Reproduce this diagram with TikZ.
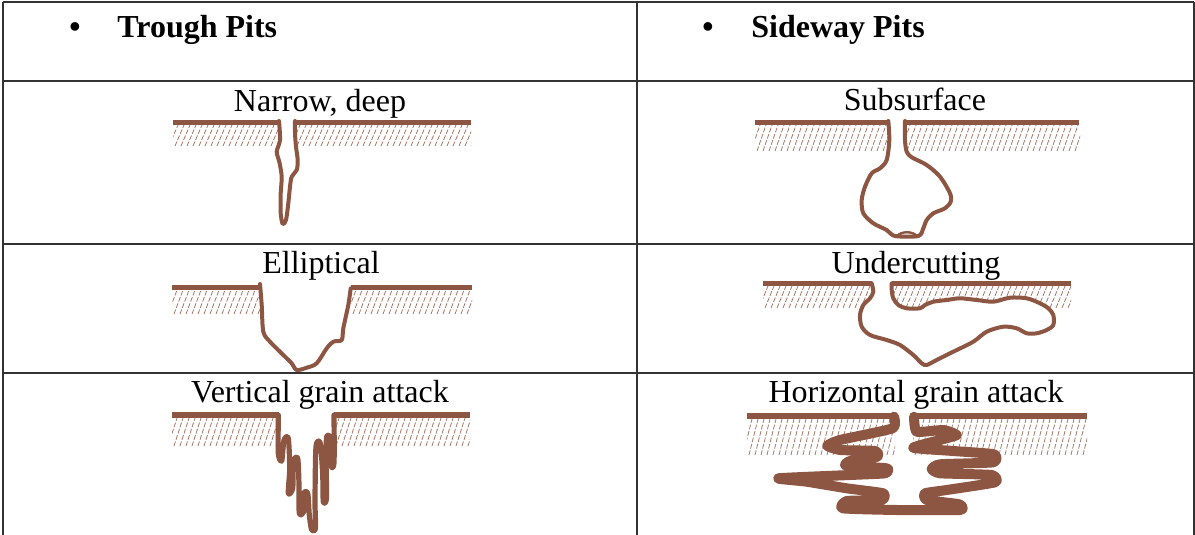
\documentclass[tikz,border=0pt]{standalone}
\usepackage{fontspec}
\setmainfont{Liberation Serif}
\definecolor{pitbrown}{RGB}{140,86,66}
\newcommand{\cellfont}{\fontsize{16}{19}\selectfont}
\tikzset{
  tablerule/.style={line width=1pt, black!80},
  surface/.style={line width=2.6pt, pitbrown},
  pitline/.style={line width=2pt, pitbrown, fill=white, line join=round, line cap=round},
  grainline/.style={line width=5pt, pitbrown, line join=round, line cap=round},
  hatchline/.style={line width=0.4pt, pitbrown!80, dash pattern=on 2.4pt off 0.9pt},
  pitlabel/.style={anchor=base, inner sep=0pt, font=\cellfont},
  heading/.style={anchor=base west, inner sep=0pt, font=\cellfont\bfseries},
}
% hatched band under a surface segment: left, right, top, bottom
\newcommand{\hatchband}[4]{%
  \begin{scope}
    \clip (#1,#3) rectangle (#2,#4);
    \foreach \k in {0,...,33}
      \draw[hatchline] ({#1-10+6*\k},#4) -- ++(9,{#3-#4});
  \end{scope}}
\begin{document}
\begin{tikzpicture}[x=0.5pt, y=-0.5pt]
    \useasboundingbox (0,0) rectangle (1195,535);

    % Table
    \draw[tablerule] (2.5,2) -- (1193.5,2);
    \draw[tablerule] (2.5,81.5) -- (1193.5,81.5);
    \draw[tablerule] (2.5,243.5) -- (1193.5,243.5);
    \draw[tablerule] (2.5,372.5) -- (1193.5,372.5);
    \draw[tablerule] (2.5,2) -- (2.5,535);
    \draw[tablerule] (637,2) -- (637,535);
    \draw[tablerule] (1193.5,2) -- (1193.5,535);

    % Headings
    \node[pitlabel, font=\cellfont\bfseries] (troughbullet) at (75,38) {\textbullet};
    \node[heading] (trough) at (117,38) {Trough Pits};
    \node[pitlabel, font=\cellfont\bfseries] (sidebullet) at (708,38) {\textbullet};
    \node[heading] (sideway) at (751,38) {Sideway Pits};

    % Labels
    \node[pitlabel] (narrow) at (320,112) {Narrow, deep};
    \node[pitlabel] (elliptical) at (321,273) {Elliptical};
    \node[pitlabel] (vertical) at (320,402) {Vertical grain attack};
    \node[pitlabel] (subsurface) at (915,111) {Subsurface};
    \node[pitlabel] (undercut) at (916,273) {Undercutting};
    \node[pitlabel] (horizontal) at (916,402) {Horizontal grain attack};

    % Hatching below the surfaces
    \hatchband{173}{279}{125}{146}
    \hatchband{295}{471}{125}{146}
    \hatchband{755}{889}{125}{151}
    \hatchband{905}{1080}{125}{151}
    \hatchband{172}{261}{290}{314}
    \hatchband{351}{472}{290}{314}
    \hatchband{763}{872}{286}{308}
    \hatchband{892}{1071}{286}{308}
    \hatchband{172}{279}{418}{446}
    \hatchband{334}{470}{418}{446}
    \hatchband{747}{895}{419}{455}
    \hatchband{913}{1087}{419}{455}

    % Narrow, deep
    \draw[pitline] plot[smooth, tension=0.5] coordinates {(279,121) (280,140) (276.7,151.7) (279.3,161.7) (281.7,176.7) (280.7,193.3) (280.7,213.3) (282.7,224) (286,220) (288.3,203.3) (290,186.7) (291.7,176.7) (296.7,170) (297.7,160) (296,146.7) (295,133.3) (295,121)};

    % Elliptical
    \draw[pitline] plot[smooth, tension=0.5] coordinates {(260,284) (261.7,305) (263.3,331.7) (270,341.7) (283.3,355) (291.7,363.3) (296.7,370) (306.7,367.7) (316.7,363.3) (326.7,348.3) (333.3,341.7) (341.7,340) (343.3,328.3) (348.3,305) (350.7,288.3)};

    % Vertical grain attack
    \draw[pitline, line width=2.6pt] plot[smooth, tension=0.45] coordinates {(278.3,415) (278.3,453.3) (281.7,461) (284,440) (288.3,438.3) (289.7,468.3) (288.3,493.3) (292.7,488.3) (293.3,461.7) (297.7,458.3) (299,485) (299.3,513.3) (303.7,511.7) (303.3,493.3) (307.7,493.3) (309.3,515) (311.7,530) (315.5,528) (315,501.7) (316,446.7) (320.3,443.3) (322.7,475) (323.3,501.7) (326.5,498.3) (326,458.3) (326.7,436.7) (330.3,438.3) (330.7,465) (334,463.3) (334,415)};

    % Subsurface
    \draw[pitline] plot[smooth, tension=0.5] coordinates {(888.3,121) (889.3,140) (886.7,160) (880,168.3) (871.7,173.3) (865,186.7) (861.7,200) (863.3,213.3) (873.3,223.3) (886.7,230) (895,236) (918.3,236) (923.3,228.3) (926.7,220) (933.3,213.3) (945,208.3) (950.7,201.7) (950,193.3) (940,176.7) (926.7,165) (911.7,157.3) (906.7,151.7) (905,140) (905,121)};
    \draw[pitbrown, line width=1.2pt] (897,236) .. controls (902,231) and (912,231) .. (917,236);

    % Undercutting
    \draw[pitline] plot[smooth, tension=0.5] coordinates {(871.7,283.3) (873.3,291.7) (870,298.3) (863.3,305) (860,315) (861.7,326.7) (870,335) (886.7,340) (900,345) (913.3,355) (921.7,363.3) (926.7,365) (936.7,360) (953.3,351.7) (973.3,341.7) (986.7,331.7) (1003.3,326.7) (1016.7,328.3) (1026.7,333.3) (1036.7,333.3) (1046.7,330) (1053.3,325) (1053.3,315) (1048.3,308.3) (1040,303.3) (1026.7,298.3) (1010,297.7) (993.3,301.7) (976.7,300) (960,298.3) (946.7,300) (933.3,301.7) (925,305) (920,308.3) (906.7,308.3) (898.3,305) (893.3,298.3) (891.7,290) (891.7,283.3)};

    % Horizontal grain attack
    \draw[grainline] plot[smooth, tension=0.3] coordinates {(894,416.7) (892.7,428.3) (840,440) (827.3,445.7) (840,450) (875,451) (877.3,456.7) (850,461) (846,465.7) (886.7,468.3) (885,473.3) (850,475) (778.3,478.3) (806.7,481.7) (846.7,488.3) (883.3,493.3) (881.7,500) (846.7,501) (842.7,508.3) (896.7,510) (960,510) (959.3,504.3) (926.7,500) (925,493.3) (946.7,490) (995,482.3) (991.7,475) (940,473.3) (931.7,469) (940,464.3) (993.3,462.3) (994,454.3) (953.3,451) (913.3,447.7) (940,440) (956.7,435) (943.3,430) (916.7,431.7) (914,416.7)};

    % Surfaces
    \draw[surface] (173,122.5) -- (279,122.5);
    \draw[surface] (295,122.5) -- (471,122.5);
    \draw[surface] (755,122.5) -- (889,122.5);
    \draw[surface] (905,122.5) -- (1079,122.5);
    \draw[surface] (172,287.5) -- (261,287.5);
    \draw[surface] (351,287.5) -- (472,287.5);
    \draw[surface] (763,283.5) -- (872,283.5);
    \draw[surface] (892,283.5) -- (1071,283.5);
    \draw[surface] (172,415) -- (279,415);
    \draw[surface] (334,415) -- (470,415);
    \draw[surface] (747,416) -- (895,416);
    \draw[surface] (913,416) -- (1087,416);
\end{tikzpicture}
\end{document}
